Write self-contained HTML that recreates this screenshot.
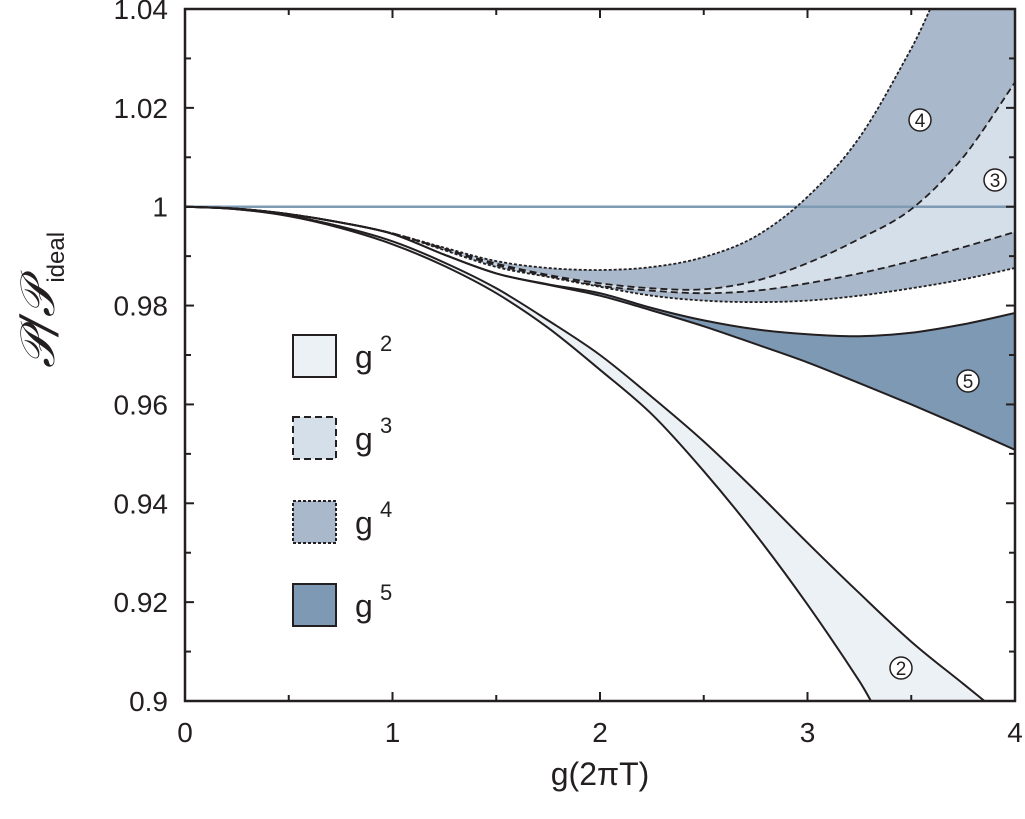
<!DOCTYPE html>
<html><head><meta charset="utf-8"><style>
html,body{margin:0;padding:0;background:#fff;overflow:hidden;width:1025px;height:819px;}
svg{display:block;overflow:hidden;}
svg text{font-family:"Liberation Sans","DejaVu Sans",sans-serif;fill:#231f20;}
</style></head><body>
<svg id="chart" width="1025" height="819" viewBox="0 0 1025 819" xmlns="http://www.w3.org/2000/svg">
<defs><clipPath id="plotclip"><rect x="185" y="9" width="830" height="692"/></clipPath></defs>
<g id="fills" clip-path="url(#plotclip)"></g>
<g id="lines" clip-path="url(#plotclip)"></g>
<g id="axes"></g>
<g id="labels"></g>
<g id="legend"></g>
<text x="600" y="785" font-size="32" text-anchor="middle">g(2πT)</text>
<g transform="translate(54,300) rotate(-90)">
<text x="0" y="0" font-size="48" text-anchor="middle" style="font-family:'DejaVu Serif','Liberation Serif',serif;font-style:italic">𝒫/𝒫<tspan font-size="24" dy="10" style="font-family:'Liberation Sans',sans-serif;font-style:normal">ideal</tspan></text>
</g>
</svg>
<script>
const xs = [0,0.25,0.5,0.75,1,1.25,1.5,1.75,2,2.25,2.5,2.75,3,3.25,3.5,3.75,4];
const g2Lower = [1,0.9995,0.9981,0.9957,0.9924,0.9880,0.9825,0.9755,0.9670,0.9580,0.9465,0.9337,0.9195,0.9040,0.8870,0.8700,0.8530];
const g2Upper = [1,0.9995,0.9982,0.9960,0.9930,0.9887,0.9835,0.9770,0.9700,0.9615,0.9525,0.9425,0.9320,0.9218,0.9120,0.9035,0.8950];
const g5Upper = [1,0.9996,0.9985,0.9968,0.9945,0.9903,0.9865,0.9843,0.9825,0.9795,0.9770,0.9752,0.9742,0.9738,0.9745,0.9762,0.9785];
const g5Lower = [1,0.9996,0.9985,0.9968,0.9945,0.9903,0.9865,0.9842,0.9820,0.9790,0.9758,0.9722,0.9685,0.9643,0.9600,0.9555,0.9508];
const g4Upper = [1,0.9996,0.9985,0.9968,0.9946,0.9917,0.9890,0.9876,0.9872,0.9878,0.9898,0.9940,1.0020,1.0140,1.0320,1.0550,1.0800];
const g4Lower = [1,0.9996,0.9985,0.9968,0.9946,0.9912,0.9878,0.9858,0.9838,0.9820,0.9810,0.9807,0.9810,0.9820,0.9835,0.9853,0.9876];
const g3Upper = [1,0.9996,0.9985,0.9968,0.9946,0.9915,0.9885,0.9862,0.9845,0.9835,0.9833,0.9850,0.9886,0.9935,0.9995,1.0100,1.0252];
const g3Lower = [1,0.9996,0.9985,0.9968,0.9946,0.9914,0.9882,0.9860,0.9840,0.9830,0.9825,0.9830,0.9845,0.9865,0.9890,0.9918,0.9949];
const yTicks = [0.9,0.92,0.94,0.96,0.98,1,1.02,1.04];
const yTickLabels = ["0.9","0.92","0.94","0.96","0.98","1","1.02","1.04"];
const xTicks = [0,1,2,3,4];
const xTickLabels = ["0","1","2","3","4"];

const X0=185,X1=1015,Y0=701,Y1=9;
const xScale=v=>X0+(v-0)/(4-0)*(X1-X0);
const yScale=v=>Y0-(v-0.9)/(1.04-0.9)*(Y0-Y1);
const NS="http://www.w3.org/2000/svg";
function mk(tag,attrs,parent){const e=document.createElementNS(NS,tag);for(const k in attrs)e.setAttribute(k,attrs[k]);parent.appendChild(e);return e;}
function pts(arr){return xs.map((x,i)=>[xScale(x),yScale(Math.min(1.052,Math.max(0.886,arr[i])))]);}
function smooth(p,move){let d=(move?"M":"L")+p[0][0].toFixed(1)+","+p[0][1].toFixed(1);
 for(let i=0;i<p.length-1;i++){const p0=p[Math.max(i-1,0)],p1=p[i],p2=p[i+1],p3=p[Math.min(i+2,p.length-1)];
  d+=" C"+(p1[0]+(p2[0]-p0[0])/6).toFixed(1)+","+(p1[1]+(p2[1]-p0[1])/6).toFixed(1)+" "+(p2[0]-(p3[0]-p1[0])/6).toFixed(1)+","+(p2[1]-(p3[1]-p1[1])/6).toFixed(1)+" "+p2[0].toFixed(1)+","+p2[1].toFixed(1);}
 return d;}
function band(up,lo){return smooth(pts(up),true)+" "+smooth(pts(lo).reverse(),false)+" Z";}
const fills=document.getElementById('fills'),lines=document.getElementById('lines');
let e;
e=mk('path',{d:band(g2Upper,g2Lower),fill:'#ecf1f6'},fills);


e=mk('path',{d:band(g5Upper,g5Lower),fill:'#7d99b3'},fills);


e=mk('path',{d:band(g4Upper,g4Lower),fill:'#a9b9cb'},fills);


e=mk('path',{d:band(g3Upper,g3Lower),fill:'#d5dfe9'},fills);


e=mk('line',{x1:X0,x2:X1,y1:yScale(1),y2:yScale(1),stroke:'#7f9ab3','stroke-width':2.5},lines);


const series=[[g2Lower,'none','g2-lower'],[g2Upper,'none','g2-upper'],[g5Upper,'none','g5-upper'],[g5Lower,'none','g5-lower'],[g3Upper,'7 4','g3-upper'],[g3Lower,'7 4','g3-lower'],[g4Upper,'3 2','g4-upper'],[g4Lower,'3 2','g4-lower']];
series.forEach(s=>{const l=mk('path',{d:smooth(pts(s[0]),true),fill:'none',stroke:'#231f20','stroke-width':s[1]==='none'?2:1.8,'stroke-dasharray':s[1]},lines);

});
const axes=document.getElementById('axes');
e=mk('rect',{x:X0,y:Y1,width:X1-X0,height:Y0-Y1,fill:'none',stroke:'#231f20','stroke-width':2.5},axes);


for(let v=0;v<=4.001;v+=0.5){const x=xScale(v),len=(Math.abs(v-Math.round(v))<1e-6)?9:6;
 mk('line',{x1:x,x2:x,y1:Y0,y2:Y0-len,stroke:'#231f20','stroke-width':2},axes);
 mk('line',{x1:x,x2:x,y1:Y1,y2:Y1+len,stroke:'#231f20','stroke-width':2},axes);}
for(let v=0.9;v<=1.0401;v+=0.01){const y=yScale(v),len=(Math.round(v*100)%2===0)?9:6;
 mk('line',{x1:X0,x2:X0+len,y1:y,y2:y,stroke:'#231f20','stroke-width':2},axes);
 mk('line',{x1:X1,x2:X1-len,y1:y,y2:y,stroke:'#231f20','stroke-width':2},axes);}
yTicks.forEach((v,i)=>{const t=mk('text',{x:168,y:yScale(v)+10,'font-size':28,'text-anchor':'end'},axes);t.textContent=yTickLabels[i];

});
xTicks.forEach((v,i)=>{const t=mk('text',{x:xScale(v),y:742,'font-size':28,'text-anchor':'middle'},axes);t.textContent=xTickLabels[i];

});
const labs=document.getElementById('labels');
[[920,120,'4'],[995,180,'3'],[968,381,'5'],[901,668,'2']].forEach(a=>{
 const g=mk('g',{},labs);
 
 
 mk('circle',{cx:a[0],cy:a[1],r:11,fill:'#fff',stroke:'#231f20','stroke-width':1.5},g);
 const t=mk('text',{x:a[0],y:a[1]+7,'font-size':19,'text-anchor':'middle'},g);t.textContent=a[2];});
const leg=document.getElementById('legend');
[['2','#ecf1f6','none',356],['3','#d5dfe9','7 4',438],['4','#a9b9cb','3 2',522],['5','#7d99b3','none',605]].forEach(a=>{
 const g=mk('g',{},leg);
 
 
 mk('rect',{x:293,y:a[3]-21,width:43,height:42,fill:a[1],stroke:'#231f20','stroke-width':2,'stroke-dasharray':a[2]},g);
 const t=mk('text',{x:355,y:a[3]+12,'font-size':32},g);t.textContent='g';
 const s=mk('text',{x:380,y:a[3]-5,'font-size':22},g);s.textContent=a[0];});
</script>
</body></html>
